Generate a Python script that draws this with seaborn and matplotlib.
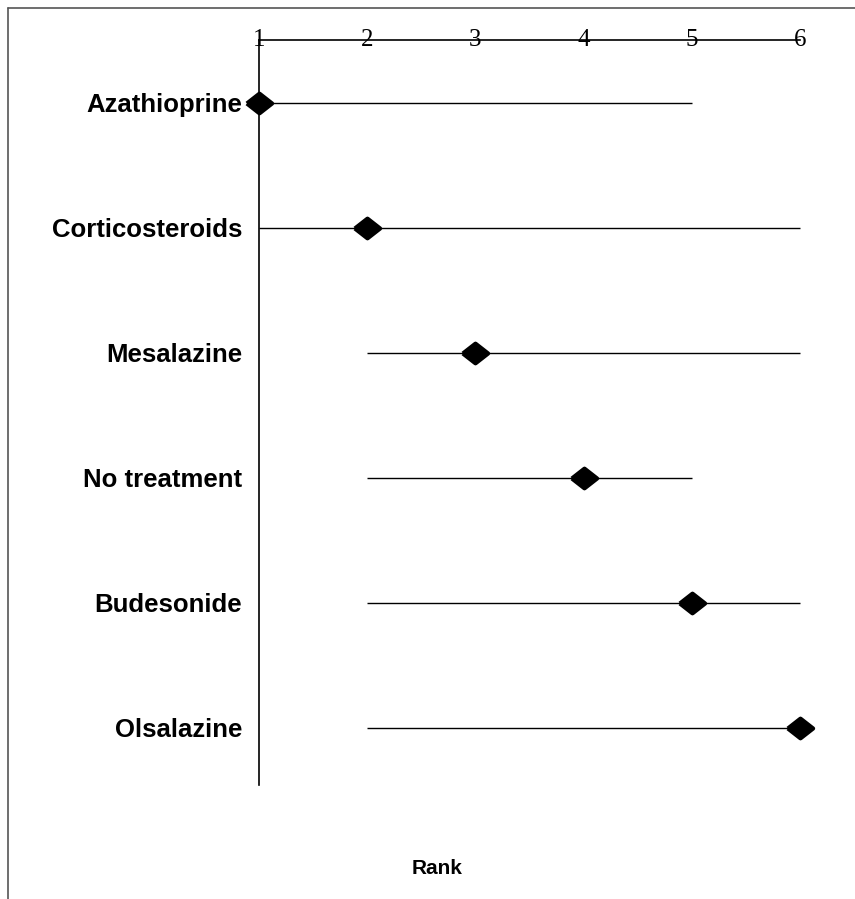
import pandas as pd
import numpy as np
import seaborn as sns
import matplotlib.pyplot as plt
from matplotlib.lines import Line2D

treatments = ["Azathioprine", "Corticosteroids", "Mesalazine",
              "No treatment", "Budesonide", "Olsalazine"]
median_rank = [1, 2, 3, 4, 5, 6]
rank_low = [1, 1, 2, 2, 2, 2]
rank_high = [5, 6, 6, 5, 6, 6]
rank_ticks = [1, 2, 3, 4, 5, 6]

df = pd.DataFrame({"treatment": treatments, "rank": median_rank,
                   "low": rank_low, "high": rank_high})

sns.set_style("white")
plt.rcParams["text.color"] = "black"
plt.rcParams["xtick.color"] = "black"
plt.rcParams["ytick.color"] = "black"

fig = plt.figure(figsize=(8.55, 8.99), dpi=100)
ax = fig.add_axes([259 / 855, 1 - 785 / 899, 541 / 855, 745 / 899])

# interval lines
ax.hlines(y=df["treatment"], xmin=df["low"], xmax=df["high"],
          color="black", linewidth=1.0, zorder=2)

# wide, slightly rounded diamond marker
diamond = [(-1.28, 0), (0, 1), (1.28, 0), (0, -1), (-1.28, 0)]
sns.scatterplot(data=df, x="rank", y="treatment", marker=diamond, s=330,
                color="black", edgecolor="black", linewidth=3.0,
                ax=ax, zorder=3, clip_on=False, legend=False)
for coll in ax.collections:
    coll.set_joinstyle("round")
    coll.set_clip_on(False)

ax.set_xlim(1, 6)
ax.set_ylim(5.46, -0.5)
ax.set_xticks(rank_ticks)
ax.set_xticklabels([str(r) for r in rank_ticks])

ax.xaxis.tick_top()
ax.tick_params(axis="x", top=True, bottom=False, labeltop=True,
               labelbottom=False, length=0, pad=0,
               labelsize=18, labelcolor="black")
for t in ax.xaxis.get_major_ticks():
    t.label2.set_va("center")
    t.label2.set_family("Liberation Serif")

ax.tick_params(axis="y", left=False, length=0, pad=12, labelsize=18.5,
               labelcolor="black")
for lbl in ax.get_yticklabels():
    lbl.set_fontweight("bold")
    lbl.set_family("Liberation Sans")

ax.set_xlabel("")
ax.set_ylabel("")

for side in ["right", "bottom"]:
    ax.spines[side].set_visible(False)
for side in ["left", "top"]:
    ax.spines[side].set_color("black")
    ax.spines[side].set_linewidth(1.2)

fig.text(437 / 855, 1 - 869 / 899, "Rank", ha="center", va="center",
         fontsize=15, fontweight="bold", family="Liberation Sans",
         color="black")

# partial frame round the picture
fig.add_artist(Line2D([8 / 855, 8 / 855], [0, 1 - 8 / 899],
                      transform=fig.transFigure, color="#555555", linewidth=1.2))
fig.add_artist(Line2D([8 / 855, 1], [1 - 8 / 899, 1 - 8 / 899],
                      transform=fig.transFigure, color="#555555", linewidth=1.2))

fig.savefig("out.png", dpi=100)
